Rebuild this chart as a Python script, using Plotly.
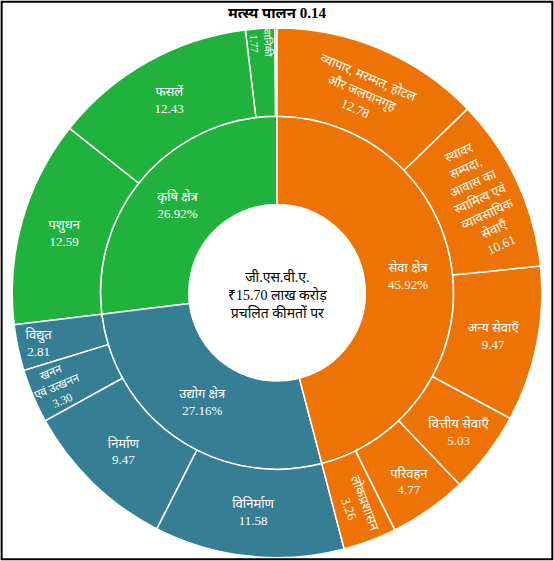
import plotly.graph_objects as go

sectors = ["कृषि क्षेत्र", "उद्योग क्षेत्र", "सेवा क्षेत्र"]
sector_pct = ["26.92%", "27.16%", "45.92%"]
sector_colors = ["#21B23E", "#367E94", "#EC7304"]

agri = ["मत्स्य पालन", "वानिकी", "फसलें", "पशुधन"]
agri_val = [0.14, 1.77, 12.43, 12.59]
industry = ["विद्युत", "खनन<br>एवं उत्खनन", "निर्माण", "विनिर्माण"]
industry_val = [2.81, 3.30, 9.47, 11.58]
services = ["लोकप्रशासन", "परिवहन", "वित्तीय सेवाएँ", "अन्य सेवाएँ",
            "स्थावर<br>सम्पदा,<br>आवास का<br>स्वामित्व एवं<br>व्यावसायिक<br>सेवाएँ",
            "व्यापार, मरम्मत, होटल<br>और जलपानगृह"]
services_val = [3.26, 4.77, 5.03, 9.47, 10.61, 12.78]

root = "जी.एस.वी.ए."
ids, labels, parents, values, texts, colors = [root], [root], [""], [0], [""], ["white"]
for s, p, c in zip(sectors, sector_pct, sector_colors):
    ids.append(s); labels.append(s); parents.append(root); values.append(0)
    texts.append(f"{s}<br>{p}"); colors.append(c)
for sec, names, vals, c in [(sectors[0], agri, agri_val, sector_colors[0]),
                            (sectors[1], industry, industry_val, sector_colors[1]),
                            (sectors[2], services, services_val, sector_colors[2])]:
    for n, v in zip(names, vals):
        ids.append(sec + n); labels.append(n); parents.append(sec); values.append(v)
        texts.append("" if v < 0.5 else f"{n}<br>{v:.2f}"); colors.append(c)

fig = go.Figure(go.Sunburst(
    ids=ids, labels=labels, parents=parents, values=values,
    branchvalues="remainder", sort=False, rotation=90,
    text=texts, texttemplate="%{text}", hoverinfo="label+value",
    marker=dict(colors=colors, line=dict(color="white", width=1.5)),
    leaf=dict(opacity=1),
    insidetextorientation="auto",
    textfont=dict(family="Liberation Serif, Noto Sans", color="white", size=13),
    domain=dict(x=[0.02, 0.98], y=[0.006, 0.95]),
))
fig.update_layout(
    width=554, height=561, paper_bgcolor="white",
    margin=dict(l=0, r=0, t=0, b=0),
    annotations=[
        dict(text="<b>मत्स्य पालन 0.14</b>", x=0.5, y=0.995, xref="paper", yref="paper",
             yanchor="top", showarrow=False,
             font=dict(family="Liberation Serif, Noto Sans", size=15, color="black")),
        dict(text="जी.एस.वी.ए.<br>₹15.70 लाख करोड़<br>प्रचलित कीमतों पर",
             x=0.5, y=0.475, xref="paper", yref="paper", showarrow=False,
             font=dict(family="Liberation Serif, Noto Sans", size=14, color="black"))],
    shapes=[dict(type="rect", xref="paper", yref="paper", x0=0.003, y0=0.003, x1=0.997, y1=0.997,
                 line=dict(color="black", width=2))],
)
fig.write_html("out.html", config={"displayModeBar": False},
               post_script="document.body.style.margin='0';document.body.style.overflow='hidden';")
